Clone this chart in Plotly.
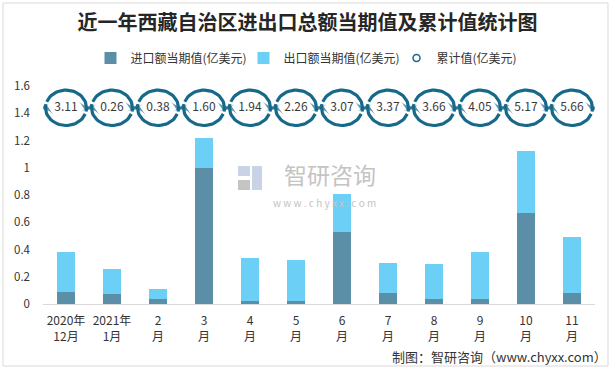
import numpy as np
import plotly.graph_objects as go

# ---- data ----
categories = ["2020年<br>12月", "2021年<br>1月", "2<br>月", "3<br>月", "4<br>月", "5<br>月",
              "6<br>月", "7<br>月", "8<br>月", "9<br>月", "10<br>月", "11<br>月"]
import_vals = [0.09, 0.07, 0.04, 1.00, 0.02, 0.02, 0.53, 0.08, 0.04, 0.04, 0.67, 0.08]
export_vals = [0.29, 0.19, 0.07, 0.22, 0.32, 0.30, 0.28, 0.22, 0.25, 0.34, 0.45, 0.41]
cumulative_vals = [3.11, 0.26, 0.38, 1.60, 1.94, 2.26, 3.07, 3.37, 3.66, 4.05, 5.17, 5.66]

C_IMP = "#5b8fa7"
C_EXP = "#6ccff6"
C_ARC = "#17698a"
FONT = "Noto Sans CJK SC"

x_idx = list(range(len(categories)))
LABEL_Y = 1.44       # vertical placement of cumulative badges
RX, RY = 0.445, 0.13  # badge ellipse radii (data units)

W, H = 615, 368
L, R, T, B = 43, 20, 86, 64
pw, ph = W - L - R, H - T - B
def px(x):
    return (x - L) / pw
def py(y):
    return (H - B - y) / ph

fig = go.Figure()
fig.add_trace(go.Bar(x=x_idx, y=import_vals, name="进口额当期值(亿美元)",
                     marker=dict(color=C_IMP, line=dict(width=0)), width=0.39))
fig.add_trace(go.Bar(x=x_idx, y=export_vals, name="出口额当期值(亿美元)",
                     marker=dict(color=C_EXP, line=dict(width=0)), width=0.39))

# circular-arrow badges around cumulative values
def arcs(start_deg, end_deg):
    xs, ys, sizes = [], [], []
    th = np.radians(np.linspace(start_deg, end_deg, 30))
    for xi in x_idx:
        xs += list(xi + RX * np.cos(th)) + [None]
        ys += list(LABEL_Y + RY * np.sin(th)) + [None]
        sizes += [0] * (len(th) - 1) + [13, 0]
    return xs, ys, sizes

for s, e in [(160, -12), (-20, -192)]:
    xs, ys, sz = arcs(s, e)
    fig.add_trace(go.Scatter(
        x=xs, y=ys, mode="lines+markers", showlegend=False, hoverinfo="skip",
        line=dict(color=C_ARC, width=3.2),
        marker=dict(symbol="arrow-wide", size=sz, color=C_ARC, angleref="previous",
                    line=dict(width=0)),
        connectgaps=False))

fig.add_trace(go.Scatter(
    x=x_idx, y=[LABEL_Y] * len(x_idx), mode="text",
    text=[f"{v:.2f}" for v in cumulative_vals], textposition="middle center",
    textfont=dict(size=12, color="#3a3a3a", family=FONT), showlegend=False, hoverinfo="skip"))

# legend entry for cumulative
fig.add_trace(go.Scatter(x=[None], y=[None], mode="markers", name="累计值(亿美元)",
                         marker=dict(symbol="circle-open", size=7, color=C_ARC,
                                     line=dict(width=1.5, color=C_ARC))))

# watermark
fig.add_annotation(x=px(378), y=py(174), xref="paper", yref="paper", text="智研咨询",
                   xanchor="right", yanchor="middle", showarrow=False,
                   font=dict(size=23, color="#c4c4c4", family=FONT))
fig.add_annotation(x=px(378), y=py(202), xref="paper", yref="paper",
                   text="w w w . c h y x x . c o m", xanchor="right", yanchor="middle",
                   showarrow=False, font=dict(size=10, color="#c4c4c4", family=FONT))
# watermark logo blocks
for (x0, y0, x1, y1, c) in [(238, 166, 250, 176, "#c9d3e6"), (252, 166, 262, 190, "#c9d3e6"),
                            (238, 180, 250, 190, "#c4c4c4")]:
    fig.add_shape(type="rect", xref="paper", yref="paper", x0=px(x0), x1=px(x1),
                  y0=py(y1), y1=py(y0), line=dict(width=0), fillcolor=c, layer="below")

# footer
fig.add_annotation(x=px(609), y=py(356), xref="paper", yref="paper",
                   text="制图：智研咨询（www.chyxx.com）", xanchor="right", yanchor="middle",
                   showarrow=False, font=dict(size=13, color="#333333", family=FONT))

fig.add_shape(type="rect", xref="paper", yref="paper", x0=px(3), x1=px(608), y0=py(366), y1=py(3),
              line=dict(color="#d9d9d9", width=1), fillcolor="rgba(0,0,0,0)", layer="below")

fig.update_layout(
    width=W, height=H, margin=dict(l=L, r=R, t=T, b=B),
    paper_bgcolor="white", plot_bgcolor="white",
    barmode="stack",
    font=dict(family=FONT, color="#333333"),
    title=dict(text="<b>近一年西藏自治区进出口总额当期值及累计值统计图</b>", x=0.5, xanchor="center",
               y=1 - 23 / H, yanchor="middle", font=dict(size=20, color="#262626", family=FONT)),
    legend=dict(orientation="h", x=px(320), xanchor="center", y=py(58), yanchor="middle",
                font=dict(size=12, color="#333333"), itemwidth=30, bgcolor="rgba(0,0,0,0)",
                traceorder="normal", entrywidth=108, entrywidthmode="pixels"),
    xaxis=dict(range=[-0.5, len(categories) - 0.5], tickvals=x_idx, ticktext=categories,
               showgrid=False, zeroline=False, showline=True, linecolor="#d9d9d9", linewidth=1,
               ticks="", ticklabelstandoff=6, tickfont=dict(size=12, color="#333333")),
    yaxis=dict(range=[0, 1.6], dtick=0.2, showgrid=False, zeroline=False, showline=False,
               ticks="", ticklabelstandoff=12, tickfont=dict(size=11.5, color="#333333")),
    showlegend=True,
)

fig.write_html("out.html", config={"displayModeBar": False},
               post_script="document.body.style.margin='0';document.body.style.padding='0';window.dispatchEvent(new Event('resize'));")
